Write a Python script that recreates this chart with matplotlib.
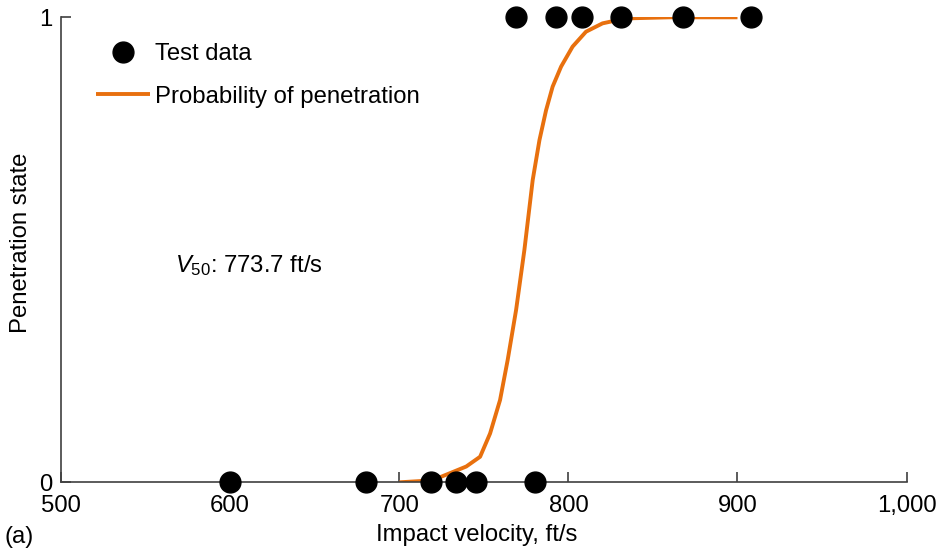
import matplotlib
matplotlib.use("Agg")
import matplotlib.pyplot as plt

plt.rcParams['font.family'] = ['Liberation Sans', 'DejaVu Sans']
plt.rcParams['mathtext.fontset'] = 'custom'
plt.rcParams['mathtext.rm'] = 'Liberation Sans'
plt.rcParams['mathtext.it'] = 'Liberation Sans:italic'

# test data (impact velocity, penetration state)
v_test = [600, 680.5, 719, 733.7, 745.6, 780,
          769, 792.9, 808.3, 831.4, 868, 907.7]
state_test = [0, 0, 0, 0, 0, 0,
              1, 1, 1, 1, 1, 1]

# fitted probability curve
v_curve = [700, 713.9, 724.8, 739.6, 747.8, 753.7, 759.6, 764.1, 769.1, 774.0,
           778.9, 782.9, 786.8, 790.7, 795.7, 802.5, 810.4, 820.2, 829.1, 838.0,
           860.0, 900.0]
p_curve = [0.0, 0.003, 0.012, 0.034, 0.055, 0.105, 0.177, 0.263, 0.371, 0.50,
           0.65, 0.736, 0.80, 0.851, 0.894, 0.937, 0.969, 0.987, 0.994, 0.998,
           1.0, 1.0]

x_ticks = [500, 600, 700, 800, 900, 1000]
x_labels = ['500', '600', '700', '800', '900', '1,000']
y_ticks = [0, 1]

ORANGE = '#E8700E'
AXC = '#404040'
FS = 17.2

fig = plt.figure(figsize=(9.39, 5.53), dpi=100)
ax = fig.add_axes([0.065, 0.1278, 0.9005, 0.8409])

ax.plot(v_curve, p_curve, color=ORANGE, lw=2.8, zorder=2,
        label='Probability of penetration', solid_capstyle='butt',
        solid_joinstyle='round')
ax.plot(v_test, state_test, 'o', color='black', ms=15, zorder=3,
        clip_on=False, label='Test data')

ax.set_xlim(500, 1000)
ax.set_ylim(0, 1)
ax.set_xticks(x_ticks)
ax.set_xticklabels(x_labels)
ax.set_yticks(y_ticks)
ax.set_yticklabels(['0', '1'])

for s in ['top', 'right']:
    ax.spines[s].set_visible(False)
for s in ['left', 'bottom']:
    ax.spines[s].set_color(AXC)
    ax.spines[s].set_linewidth(1.2)
ax.tick_params(direction='in', length=7, width=1.2, color=AXC,
               labelsize=FS, labelcolor='black')
ax.tick_params(axis='x', pad=9)
ax.tick_params(axis='y', pad=6)

ax.set_xlabel('Impact velocity, ft/s', fontsize=FS)
ax.xaxis.set_label_coords(0.492, -0.09)
ax.set_ylabel('Penetration state', fontsize=FS)
ax.yaxis.set_label_coords(-0.034, 0.515)

ax.text(567.3, 0.467, r'$V_{50}$: 773.7 ft/s', fontsize=FS, va='center', ha='left')
fig.text(5 / 939, 1 - 537 / 553, '(a)', fontsize=FS, va='center', ha='left')

h, l = ax.get_legend_handles_labels()
ax.legend([h[1], h[0]], [l[1], l[0]], loc='upper left',
          bbox_to_anchor=(0.0414, 0.944), frameon=False, fontsize=FS,
          borderpad=0, borderaxespad=0, handlelength=2.25,
          handletextpad=0.2, labelspacing=0.85, numpoints=1)

fig.savefig('out.png', dpi=100, facecolor='white')
